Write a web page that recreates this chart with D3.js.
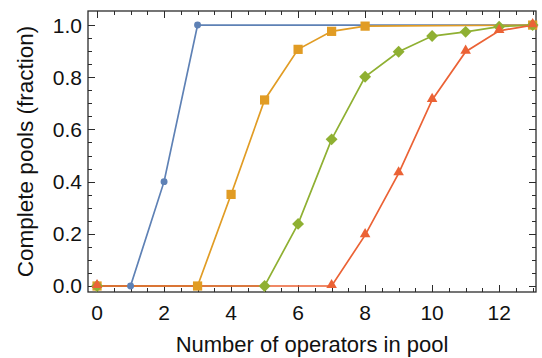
<!DOCTYPE html>
<html><head><meta charset="utf-8">
<script src="https://cdn.jsdelivr.net/npm/d3@7"></script>
<style>body{margin:0;background:#fff}svg{display:block}text{font-family:"Liberation Sans",Arial,sans-serif;fill:#111}</style>
</head><body><svg id="c" width="542" height="358"></svg>
<script>
const blueX=[0,1,2,3,13], blueY=[0,0,0.40,1,1];
const orangeX=[0,3,4,5,6,7,8,13], orangeY=[0,0,0.351,0.713,0.907,0.976,0.996,1];
const greenX=[0,5,6,7,8,9,10,11,12,13], greenY=[0,0,0.238,0.562,0.802,0.898,0.958,0.974,0.994,1];
const redX=[0,7,8,9,10,11,12,13], redY=[0,0,0.195,0.432,0.713,0.898,0.978,1];
const xTicks=[0,2,4,6,8,10,12];
const yTicks=[0,0.2,0.4,0.6,0.8,1.0];
const xTitle="Number of operators in pool", yTitle="Complete pools (fraction)";

const series=[
 {xs:blueX,ys:blueY,color:"#5E81B5",shape:"circle"},
 {xs:orangeX,ys:orangeY,color:"#E19C24",shape:"square"},
 {xs:greenX,ys:greenY,color:"#8FB032",shape:"diamond"},
 {xs:redX,ys:redY,color:"#EB6235",shape:"triangle"}];

const svg=d3.select("#c");
const L=88,R=536,T=11,B=292;
const x=d3.scaleLinear().domain([-0.27,13.1]).range([L,R]);
const y=d3.scaleLinear().domain([-0.023,1.054]).range([B,T]);
const frameColor="#2b2b2b";

// ticks
const xMinor=d3.range(0,13.01,0.5), yMinor=d3.range(0,1.001,0.05);
const g=svg.append("g").attr("stroke",frameColor).attr("stroke-width",1);
xMinor.forEach(v=>{const maj=Math.abs(v/2-Math.round(v/2))<1e-6;const len=maj?7:4;const px=Math.round(x(v))+0.5;
 g.append("line").attr("x1",px).attr("x2",px).attr("y1",B).attr("y2",B-len);
 g.append("line").attr("x1",px).attr("x2",px).attr("y1",T).attr("y2",T+len);});
yMinor.forEach(v=>{const maj=Math.abs(v/0.2-Math.round(v/0.2))<1e-6;const len=maj?7:4;const py=Math.round(y(v))+0.5;
 g.append("line").attr("y1",py).attr("y2",py).attr("x1",L).attr("x2",L+len);
 g.append("line").attr("y1",py).attr("y2",py).attr("x1",R).attr("x2",R-len);});
svg.append("rect").attr("x",L).attr("y",T).attr("width",R-L).attr("height",B-T).attr("fill","none").attr("stroke",frameColor).attr("stroke-width",1.3);

// tick labels
svg.append("g").selectAll("text").data(xTicks).join("text").attr("x",d=>x(d)).attr("y",B+28)
 .attr("text-anchor","middle").attr("font-size",21).text(d=>d);
svg.append("g").selectAll("text").data(yTicks).join("text").attr("x",L-6).attr("y",d=>y(d)+7.5)
 .attr("text-anchor","end").attr("font-size",21).text(d=>d.toFixed(1));

// titles
svg.append("text").attr("x",312).attr("y",352).attr("text-anchor","middle").attr("font-size",22).text(xTitle);
svg.append("text").attr("transform",`translate(33,${(T+B)/2}) rotate(-90)`).attr("text-anchor","middle").attr("font-size",22.5).text(yTitle);

// series
const line=d3.line().x(d=>x(d[0])).y(d=>y(d[1]));
const sym={circle:d3.symbol(d3.symbolCircle,38),square:d3.symbol(d3.symbolSquare,85),
 diamond:d3.symbol(d3.symbolDiamond2,90),triangle:d3.symbol(d3.symbolTriangle2,80)};
series.forEach(s=>{
 const pts=s.xs.map((v,i)=>[v,s.ys[i]]);
 svg.append("path").datum(pts).attr("d",line).attr("fill","none").attr("stroke",s.color).attr("stroke-width",1.7);
});
series.forEach(s=>{
 const pts=s.xs.map((v,i)=>[v,s.ys[i]]);
 svg.append("g").selectAll("path").data(pts).join("path")
  .attr("transform",d=>`translate(${x(d[0])},${y(d[1])+(s.shape==="triangle"?-1:0)})`)
  .attr("d",sym[s.shape]()).attr("fill",s.color);
});
</script></body></html>
